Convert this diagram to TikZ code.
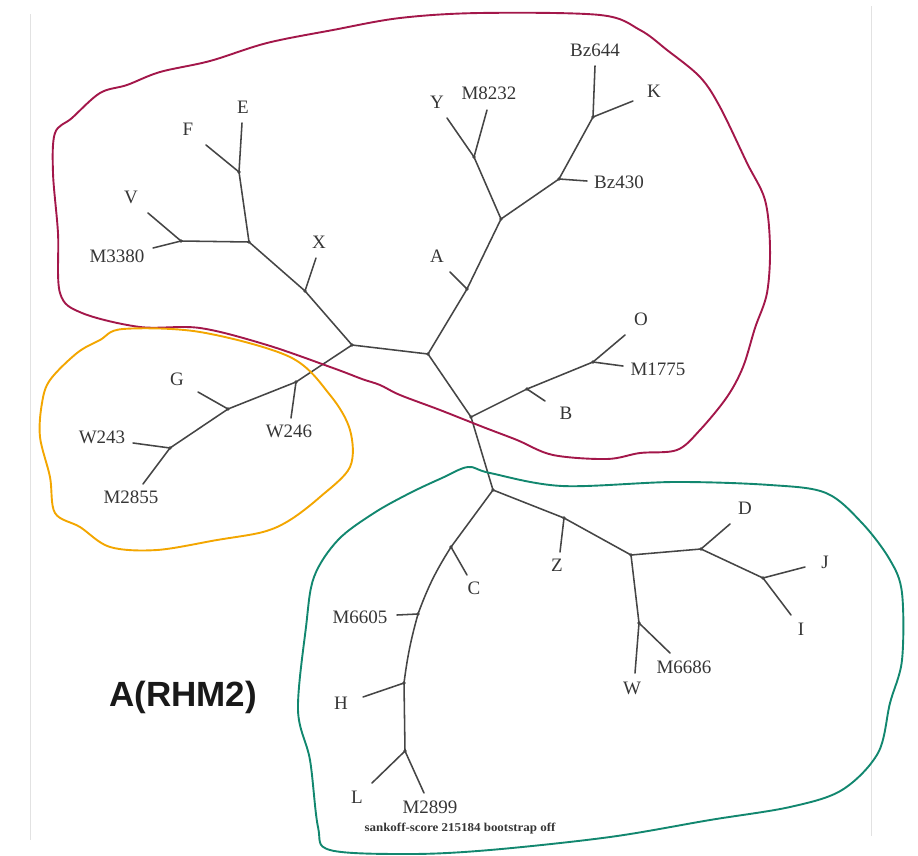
\documentclass[tikz,border=0pt]{standalone}
\usepackage{fontspec}
\setmainfont{Liberation Serif}
\newfontfamily\headfont{Liberation Sans}
\definecolor{treegray}{HTML}{454545}
\definecolor{labelgray}{HTML}{363636}
\definecolor{edgegray}{HTML}{E2E2E2}
\definecolor{clusterred}{HTML}{A3174A}
\definecolor{clusterorange}{HTML}{F3A600}
\definecolor{clustergreen}{HTML}{12876F}
\begin{document}
\begin{tikzpicture}[x=1pt,y=-1pt,
  branch/.style={draw=treegray, line width=1.55pt, line cap=round},
  taxon/.style={font=\fontsize{19}{19}\selectfont, text=labelgray, inner sep=0pt},
  cluster/.style={line width=1.9pt, line join=round},
  joint/.style={fill=treegray}]
\useasboundingbox (0,0) rectangle (918,856);

% page edges
\draw[edgegray, line width=0.8pt] (30,14) -- (30,840);
\draw[edgegray, line width=0.8pt] (871,6) -- (871,836);

% ---- tree: inner junctions ----
\coordinate (n1) at (428,354);
\coordinate (n2) at (352,345);
\coordinate (n3) at (471,417);
\coordinate (n4) at (493,490);
\coordinate (a1) at (467,289);
\coordinate (a2) at (501,219);
\coordinate (yn) at (474,157);
\coordinate (bz) at (559,179);
\coordinate (kn) at (593,117);
\coordinate (bn) at (527,389);
\coordinate (on) at (593,362);
\coordinate (xn) at (305,291);
\coordinate (en) at (249,242);
\coordinate (ef) at (239,172);
\coordinate (vm) at (181,241);
\coordinate (wn) at (296,382);
\coordinate (gn) at (228,409);
\coordinate (wm) at (170,448);
\coordinate (cn) at (451,547);
\coordinate (mn) at (418,614);
\coordinate (hn) at (404,683);
\coordinate (ln) at (405,751);
\coordinate (zn) at (564,518);
\coordinate (wj) at (631,555);
\coordinate (dn) at (701,549);
\coordinate (jn) at (763,578);
\coordinate (wmn) at (639,623);

% ---- tree: leaf tips ----
\coordinate (tA) at (450,272);
\coordinate (tY) at (447,118);
\coordinate (tM8232) at (487,110);
\coordinate (tBz430) at (587,181);
\coordinate (tBz644) at (595,66);
\coordinate (tK) at (633,101);
\coordinate (tB) at (545,401);
\coordinate (tO) at (625,335);
\coordinate (tM1775) at (623,366);
\coordinate (tX) at (316,258);
\coordinate (tE) at (242,123);
\coordinate (tF) at (206,145);
\coordinate (tV) at (148,213);
\coordinate (tM3380) at (153,248);
\coordinate (tW246) at (291,418);
\coordinate (tG) at (198,392);
\coordinate (tW243) at (133,443);
\coordinate (tM2855) at (143,484);
\coordinate (tC) at (467,575);
\coordinate (tM6605) at (397,615);
\coordinate (tH) at (363,697);
\coordinate (tL) at (372,783);
\coordinate (tM2899) at (424,793);
\coordinate (tZ) at (560,552);
\coordinate (tD) at (730,524);
\coordinate (tJ) at (805,567);
\coordinate (tI) at (791,615);
\coordinate (tW) at (635,673);
\coordinate (tM6686) at (670,653);

% ---- branches ----
\foreach \a/\b in {n1/n2, n1/n3, n1/a1, a1/a2, a1/tA, a2/yn, yn/tY, yn/tM8232,
  a2/bz, bz/tBz430, bz/kn, kn/tBz644, kn/tK,
  n3/bn, bn/tB, bn/on, on/tO, on/tM1775, n3/n4,
  n2/xn, xn/tX, xn/en, en/ef, ef/tE, ef/tF, en/vm, vm/tV, vm/tM3380,
  n2/wn, wn/tW246, wn/gn, gn/tG, gn/wm, wm/tW243, wm/tM2855,
  cn/tC, mn/tM6605, hn/tH, ln/tL, ln/tM2899,
  n4/zn, zn/tZ, zn/wj, wj/dn, dn/tD, dn/jn, jn/tJ, jn/tI,
  wj/wmn, wmn/tW, wmn/tM6686}
  \draw[branch] (\a) -- (\b);
% the long lower-left limb bows gently
\draw[branch] (n4) -- (cn) to[bend right=6] (mn) to[bend right=4] (hn) -- (ln);

\foreach \j in {n1,n2,n3,n4,a1,a2,yn,bz,kn,bn,on,xn,en,ef,vm,wn,gn,wm,cn,mn,hn,ln,zn,wj,dn,jn,wmn}
  \fill[joint] (\j) circle (1.8);

% ---- taxon labels ----
\node[taxon] (lE) at (243,107) {E};
\node[taxon] (lF) at (188,129) {F};
\node[taxon] (lV) at (131,197) {V};
\node[taxon] (lM3380) at (117,256) {M3380};
\node[taxon] (lX) at (319,242) {X};
\node[taxon] (lY) at (437,102) {Y};
\node[taxon] (lM8232) at (489,93) {M8232};
\node[taxon] (lBz644) at (595,50) {Bz644};
\node[taxon] (lK) at (654,91) {K};
\node[taxon] (lBz430) at (619,182) {Bz430};
\node[taxon] (lA) at (437,256) {A};
\node[taxon] (lO) at (641,319) {O};
\node[taxon] (lM1775) at (658,369) {M1775};
\node[taxon] (lB) at (566,413) {B};
\node[taxon] (lG) at (177,379) {G};
\node[taxon] (lW246) at (289,431) {W246};
\node[taxon] (lW243) at (102,437) {W243};
\node[taxon] (lM2855) at (131,497) {M2855};
\node[taxon] (lD) at (745,508) {D};
\node[taxon] (lJ) at (825,562) {J};
\node[taxon] (lI) at (801,629) {I};
\node[taxon] (lZ) at (557,565) {Z};
\node[taxon] (lC) at (474,588) {C};
\node[taxon] (lM6605) at (360,617) {M6605};
\node[taxon] (lH) at (341,703) {H};
\node[taxon] (lL) at (357,797) {L};
\node[taxon] (lM2899) at (430,807) {M2899};
\node[taxon] (lW) at (632,688) {W};
\node[taxon] (lM6686) at (684,667) {M6686};

% ---- caption and title ----
\node[text=labelgray, inner sep=0pt] (score) at (460,829)
  {\scalebox{1.08}[1]{\fontsize{12}{12}\selectfont\bfseries sankoff-score 215184 bootstrap off}};
\node[inner sep=0pt, text=black!90] (title) at (183,697)
  {\headfont\bfseries\fontsize{35}{35}\selectfont A(RHM2)};

% ---- hand-drawn cluster outlines ----
\draw[cluster, clusterred] plot[smooth cycle, tension=0.55] coordinates {
  (55,133) (72,118) (100,93) (127,85) (160,72) (210,61) (267,43) (333,30)
  (400,18) (480,13) (600,15) (640,30) (667,50) (700,77) (720,107) (747,163)
  (765,200) (770,247) (767,293) (755,328) (743,367) (727,397) (700,430)
  (677,450) (640,453) (607,459) (553,455) (517,440) (483,427) (440,410)
  (400,395) (380,385) (362,379) (333,368) (267,345) (200,328) (140,327)
  (82,313) (60,293) (58,233) (53,173)};
\draw[cluster, clusterorange] plot[smooth cycle, tension=0.55] coordinates {
  (123,329) (200,332) (290,357) (330,395) (350,430) (350,467) (320,497)
  (290,520) (263,532) (217,540) (157,550) (110,547) (80,527) (55,513)
  (50,477) (40,437) (42,403) (50,380) (77,353) (100,340)};
\draw[cluster, clustergreen] plot[smooth cycle, tension=0.55] coordinates {
  (468,467) (490,473) (562,486) (674,482) (770,485) (826,493) (862,523)
  (890,560) (902,593) (902,660) (890,703) (878,753) (842,790) (790,807)
  (710,820) (610,837) (490,850) (410,854) (330,850) (318,827) (310,760)
  (298,710) (306,627) (314,577) (338,540) (374,513) (410,493) (442,478)};
\end{tikzpicture}
\end{document}
